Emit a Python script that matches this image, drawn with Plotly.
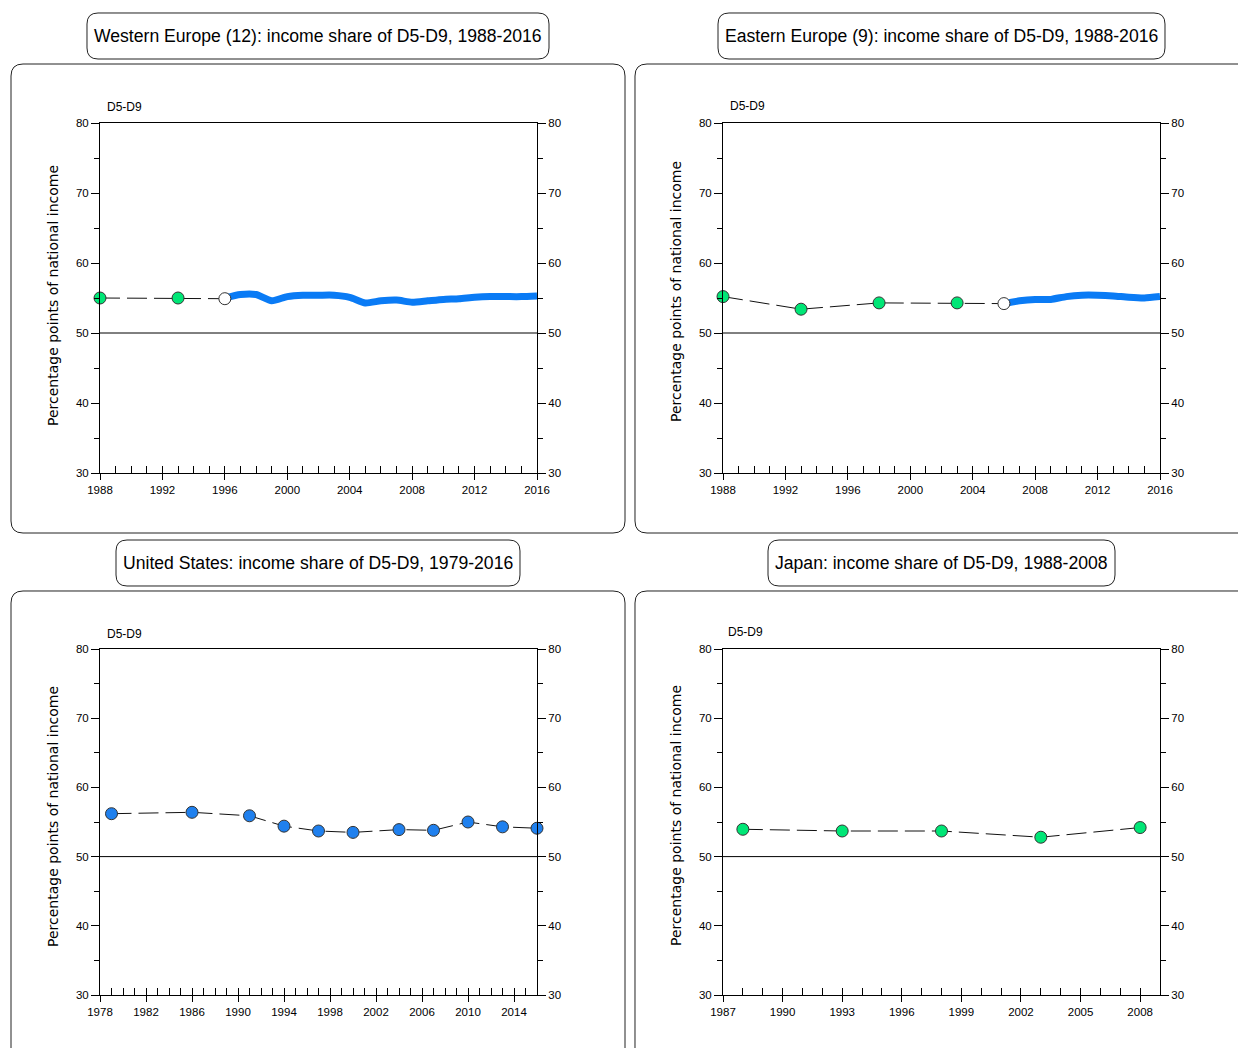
import plotly.graph_objects as go

W, H = 1238, 1048

# ---------------- data ----------------
we_pt_years = [1988, 1993]
we_pt_vals = [55.0, 55.0]
we_open_year = [1996]
we_open_val = [54.9]
we_line_years = [1996, 1997, 1998, 1999, 2000, 2001, 2002, 2003, 2004, 2005, 2006,
                 2007, 2008, 2009, 2010, 2011, 2012, 2013, 2014, 2015, 2016]
we_line_vals = [55.0, 55.5, 55.5, 54.6, 55.2, 55.4, 55.4, 55.4, 55.1, 54.3, 54.6,
                54.7, 54.4, 54.6, 54.8, 54.9, 55.1, 55.2, 55.2, 55.2, 55.3]

ee_pt_years = [1988, 1993, 1998, 2003]
ee_pt_vals = [55.2, 53.4, 54.3, 54.3]
ee_open_year = [2006]
ee_open_val = [54.2]
ee_line_years = [2006, 2007, 2008, 2009, 2010, 2011, 2012, 2013, 2014, 2015, 2016]
ee_line_vals = [54.2, 54.6, 54.8, 54.8, 55.2, 55.4, 55.4, 55.3, 55.1, 55.0, 55.2]

us_years = [1979, 1986, 1991, 1994, 1997, 2000, 2004, 2007, 2010, 2013, 2016]
us_vals = [56.2, 56.4, 55.9, 54.4, 53.7, 53.5, 53.9, 53.8, 55.0, 54.3, 54.1]

jp_years = [1988, 1993, 1998, 2003, 2008]
jp_vals = [53.95, 53.7, 53.7, 52.8, 54.2]

titles = [
    "Western Europe (12): income share of D5-D9, 1988-2016",
    "Eastern Europe (9): income share of D5-D9, 1988-2016",
    "United States: income share of D5-D9, 1979-2016",
    "Japan: income share of D5-D9, 1988-2008",
]
series_label = "D5-D9"
y_title = "Percentage points of national income"

# ---------------- styles ----------------
FONT = "Liberation Sans, Arial, Helvetica, sans-serif"
GREEN = "#00E676"
BLUE_LINE = "#0A7BF5"
BLUE_MK = "#1F80EE"
DASH = "20px,7px"


def px(x):
    return x / W


def py(y):
    return 1 - y / H


panels = [
    dict(xd=(100, 537), yd=(123, 473), xr=[1988, 2016], dtick=4,
         box=(11, 64, 625, 533), tbox=(87, 13, 549, 59), lab=(124, 107), yt=(53, 296)),
    dict(xd=(723, 1160), yd=(123, 473), xr=[1988, 2016], dtick=4,
         box=(635, 64, 1252, 533), tbox=(718, 13, 1165, 59), lab=(747, 106), yt=(676, 292)),
    dict(xd=(100, 537), yd=(649, 995), xr=[1978, 2016], dtick=4,
         box=(11, 591, 625, 1062), tbox=(116, 540, 520, 586), lab=(124, 634), yt=(53, 817)),
    dict(xd=(723, 1160), yd=(649, 995), xr=[1987, 2009], dtick=3,
         box=(635, 591, 1252, 1062), tbox=(768, 540, 1115, 586), lab=(746, 632), yt=(676, 816)),
]


def rrect(x0, y0, x1, y1, r):
    pts = [
        ("M", [(x0 + r, y0)]), ("L", [(x1 - r, y0)]), ("Q", [(x1, y0), (x1, y0 + r)]),
        ("L", [(x1, y1 - r)]), ("Q", [(x1, y1), (x1 - r, y1)]),
        ("L", [(x0 + r, y1)]), ("Q", [(x0, y1), (x0, y1 - r)]),
        ("L", [(x0, y0 + r)]), ("Q", [(x0, y0), (x0 + r, y0)]),
    ]
    s = ""
    for cmd, ps in pts:
        s += cmd + " " + " ".join(f"{px(a):.5f},{py(b):.5f}" for a, b in ps) + " "
    return s + "Z"


fig = go.Figure()
layout = dict(
    template="none",
    width=W, height=H, autosize=False,
    margin=dict(l=0, r=0, t=0, b=0, pad=0),
    paper_bgcolor="white", plot_bgcolor="white",
    showlegend=False, font=dict(family=FONT, color="black", size=12),
    shapes=[], annotations=[],
)

TICKFONT = dict(size=11.5, family=FONT, color="black")

for i, p in enumerate(panels, start=1):
    s = "" if i == 1 else str(i)
    xdom = [px(p["xd"][0]), px(p["xd"][1])]
    ydom = [py(p["yd"][1]), py(p["yd"][0])]
    layout["xaxis" + s] = dict(
        domain=xdom, range=p["xr"], anchor="y" + s, showline=True, linecolor="black",
        linewidth=1, mirror=True, ticks="outside", ticklen=6, tickcolor="black",
        tick0=p["xr"][0], dtick=p["dtick"], showgrid=False, zeroline=False,
        tickfont=TICKFONT, tickangle=0, automargin=False,
    )
    layout[f"xaxis{i + 4}"] = dict(
        domain=xdom, range=p["xr"], overlaying="x" + s, anchor="y" + s,
        ticks="inside", ticklen=7, tickcolor="black", tick0=p["xr"][0], dtick=1,
        showticklabels=False, showgrid=False, zeroline=False, showline=False,
        automargin=False,
    )
    yax = dict(
        domain=ydom, range=[30, 80], anchor="x" + s, showline=True, linecolor="black",
        linewidth=1, ticks="outside", ticklen=8, tickcolor="black", tick0=30, dtick=10,
        minor=dict(dtick=5, ticklen=5, ticks="outside", tickcolor="black"),
        showgrid=False, zeroline=False, tickfont=TICKFONT, automargin=False,
    )
    layout["yaxis" + s] = dict(yax)
    yr = dict(yax)
    yr.update(overlaying="y" + s, side="right", anchor=f"x{i + 4}")
    layout[f"yaxis{i + 4}"] = yr

    # horizontal reference line at 50
    layout["shapes"].append(dict(type="line", xref=f"x{s} domain", x0=0, x1=1,
                                 yref="y" + s, y0=50, y1=50,
                                 line=dict(color="black", width=1)))
    # panel box and title box
    bx = p["box"]
    layout["shapes"].append(dict(type="path", xref="paper", yref="paper",
                                 path=rrect(*bx, 12), line=dict(color="#222", width=1)))
    tb = p["tbox"]
    layout["shapes"].append(dict(type="path", xref="paper", yref="paper",
                                 path=rrect(*tb, 11), line=dict(color="#222", width=1)))
    layout["annotations"].append(dict(
        text=titles[i - 1], xref="paper", yref="paper",
        x=px((tb[0] + tb[2]) / 2), y=py((tb[1] + tb[3]) / 2),
        showarrow=False, font=dict(size=17.6, family=FONT), xanchor="center", yanchor="middle"))
    layout["annotations"].append(dict(
        text=series_label, xref="paper", yref="paper", x=px(p["lab"][0]), y=py(p["lab"][1]),
        showarrow=False, font=dict(size=12, family=FONT), xanchor="center", yanchor="middle"))
    layout["annotations"].append(dict(
        text=y_title, xref="paper", yref="paper", x=px(p["yt"][0]), y=py(p["yt"][1]),
        showarrow=False, textangle=-90, font=dict(size=14, family="DejaVu Sans"),
        xanchor="center", yanchor="middle"))

    # invisible carrier trace so the overlay axes (right y axis, inner x ticks) are drawn
    fig.add_trace(go.Scatter(x=p["xr"], y=[None, None], xaxis=f"x{i + 4}", yaxis=f"y{i + 4}",
                             mode="lines", hoverinfo="skip", showlegend=False))


def dashed(xs, ys, ax):
    return go.Scatter(x=xs, y=ys, mode="lines", xaxis=ax[0], yaxis=ax[1],
                      line=dict(color="#111", width=1, dash=DASH), cliponaxis=False,
                      hoverinfo="skip")


def marks(xs, ys, ax, fill):
    return go.Scatter(x=xs, y=ys, mode="markers", xaxis=ax[0], yaxis=ax[1],
                      marker=dict(size=12, color=fill, line=dict(color="#333", width=1)),
                      cliponaxis=False)


def thick(xs, ys, ax):
    return go.Scatter(x=xs, y=ys, mode="lines", xaxis=ax[0], yaxis=ax[1],
                      line=dict(color=BLUE_LINE, width=7, shape="spline", smoothing=0.6),
                      cliponaxis=False)


A1, A2, A3, A4 = ("x", "y"), ("x2", "y2"), ("x3", "y3"), ("x4", "y4")

# Western Europe
fig.add_trace(dashed(we_pt_years + we_open_year, we_pt_vals + we_open_val, A1))
fig.add_trace(thick(we_line_years, we_line_vals, A1))
fig.add_trace(marks(we_pt_years, we_pt_vals, A1, GREEN))
fig.add_trace(marks(we_open_year, we_open_val, A1, "white"))

# Eastern Europe
fig.add_trace(dashed(ee_pt_years + ee_open_year, ee_pt_vals + ee_open_val, A2))
fig.add_trace(thick(ee_line_years, ee_line_vals, A2))
fig.add_trace(marks(ee_pt_years, ee_pt_vals, A2, GREEN))
fig.add_trace(marks(ee_open_year, ee_open_val, A2, "white"))

# United States
fig.add_trace(dashed(us_years, us_vals, A3))
fig.add_trace(marks(us_years, us_vals, A3, BLUE_MK))

# Japan
fig.add_trace(dashed(jp_years, jp_vals, A4))
fig.add_trace(marks(jp_years, jp_vals, A4, GREEN))

fig.update_layout(**layout)

fig.write_html("out.html", config={"displayModeBar": False},
               post_script="document.body.style.margin='0';document.documentElement.style.overflow='hidden';")
